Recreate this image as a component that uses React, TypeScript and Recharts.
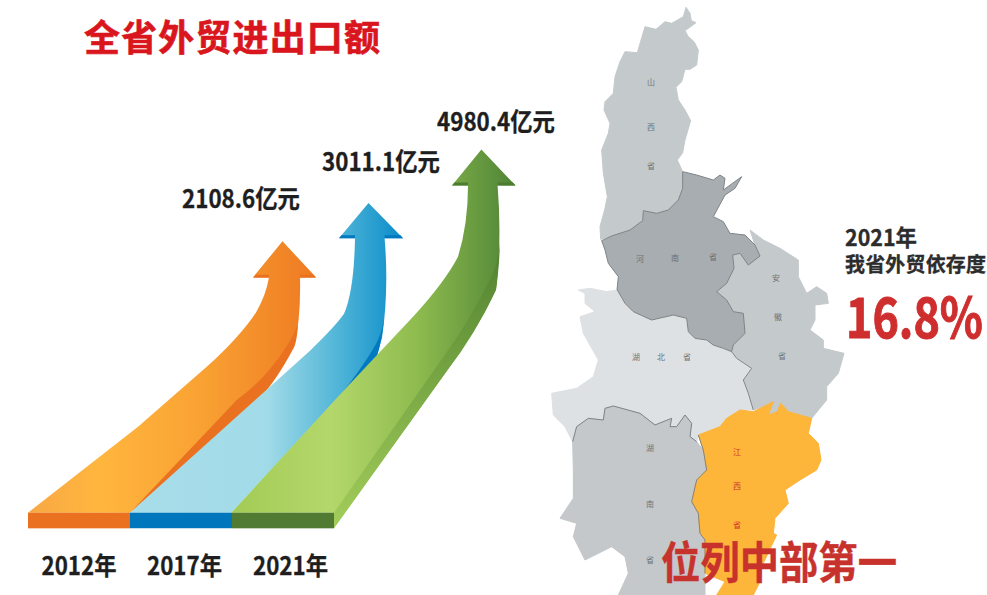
import { BarChart, Bar, XAxis, YAxis, LabelList, ScatterChart, Scatter } from "recharts";

const FONT = "'Noto Sans CJK SC', sans-serif";

const YEARS = ["2012年", "2017年", "2021年"];
const TRADE_VALUES = [2108.6, 3011.1, 4980.4];
const DEPENDENCE = "16.8%";

// arrow artwork, traced at the size of the reference, stretched onto each bar
const ARROWS = [
  {
    box: [28, 241.7, 102, 271],
    body: "M28 512.7 L138 427 L207 367 Q240 337 256 313 Q266 296 269 278 L253 278 L282.5 242 L316 278 L300 278 Q301 320 294 347 Q270 390 248 410 L130 512.7 Z",
    side: "M298 325 Q297 340 294.4 347 Q272 390 248 410 L130 512.7 L237 400 Q258 385 272 367 Q290 345 298 325 Z",
    notch: "M253 278.3 L256 275.5 L269 275.5 L269 278.3 Z M300 278.3 L300 275.5 L313.5 275.5 L316 278.3 Z",
    stops: [[0, "#f8a845"], [0.25, "#ffb63e"], [0.6, "#f9a233"], [1, "#ee7a22"]],
    edge: "#ea7120",
    strip: "#ea7120",
  },
  {
    box: [130, 201.7, 102, 311],
    body: "M130 512.7 L258 397 L310 350 Q335 326 344 313 Q354 290 355 237 L339 237 L368.5 201.7 L403 237 L384.6 237 Q389 290 382 337 L377 355 L231.4 512.7 Z",
    side: "M384 318 Q382 340 377 355 L340 395 Q360 370 372 350 Q382 335 384 318 Z",
    notch: "M339 237 L341.5 234 L355 234 L355 237 Z M384.6 237 L384.6 234 L400.5 234 L403 237 Z",
    stops: [[0, "#a8dde9"], [0.5, "#a2dbe8"], [0.75, "#54b7d8"], [1, "#0a8cc9"]],
    edge: "#0079c1",
    strip: "#0077bc",
  },
  {
    box: [232, 150, 102, 362.7],
    body: "M231.4 512.7 L344.4 390 L413 317 Q445 282 458 257 Q468 225 468 186 L452 186 L481.4 150 L515.5 186 L497.6 186 Q502 240 496 290 Q475 335 447.7 370 L334 528 L334 512.7 Z",
    side: "M334 512.7 L334 528.3 L447.7 370 Q480 325 496 290 Q499 270 500 243 Q498 265 490 280 Q470 320 447 352 Z",
    notch: "M452 186 L454.5 183 L468 183 L468 186 Z M497.6 186 L497.6 183 L513 183 L515.5 186 Z",
    stops: [[0, "#a3cb55"], [0.35, "#b4d76b"], [0.65, "#8fbc4f"], [1, "#4f8436"]],
    edge: "#4c7c30",
    strip: "#517b33",
  },
];

const LABEL_SHIFT = [[213, -44], [251, -43], [264, -29]];
const TICK_SHIFT = [0, 3.5, 7.5];

const renderArrow = (props: any) => {
  const { x, y, width, height, index } = props;
  const a = ARROWS[index];
  const [bx, by, bw, bh] = a.box;
  const id = `arrow-${index}`;
  return (
    <g transform={`translate(${x} ${y}) scale(${width / bw} ${height / bh}) translate(${-bx} ${-by})`}>
      <defs>
        <linearGradient id={id} x1="0" y1="0" x2="1" y2="0">
          {a.stops.map(([o, c]) => <stop key={o} offset={o} stopColor={c as string} />)}
        </linearGradient>
        <linearGradient id="green-side" x1="0" y1="0" x2="0" y2="1">
          <stop offset={0} stopColor="#4f7f30" />
          <stop offset={0.35} stopColor="#6d9c3e" />
          <stop offset={1} stopColor="#a3ce5b" />
        </linearGradient>
      </defs>
      <path d={a.body} fill={`url(#${id})`} />
      <path d={a.side} fill={index === 2 ? "url(#green-side)" : a.edge} />
      <path d={a.notch} fill={a.edge} />
      <rect x={bx} y={by + bh} width={bw} height={15.6} fill={a.strip} />
    </g>
  );
};

const renderValue = (props: any) => {
  const { x, y, value, index } = props;
  const [dx, dy] = LABEL_SHIFT[index];
  return (
    <text x={x + dx} y={y + dy} textAnchor="middle" dominantBaseline="central" fontFamily={FONT} fontWeight={700} fontSize={25} fill="#1e1e20" stroke="#1e1e20" strokeWidth={0.3} textLength={118} lengthAdjust="spacingAndGlyphs">
      {value.toFixed(1)}亿元
    </text>
  );
};

const renderYear = (props: any) => {
  const { x, y, payload, index } = props;
  return (
    <text x={x + TICK_SHIFT[index]} y={y + 43} textAnchor="middle" dominantBaseline="central" fontFamily={FONT} fontWeight={700} fontSize={25} fill="#1e1e20" stroke="#1e1e20" strokeWidth={0.3} textLength={75} lengthAdjust="spacingAndGlyphs">
      {payload.value}
    </text>
  );
};

// province outlines were traced on two 3x crops of the map
const north = (pts: number[][]) => pts.map(([x, y]) => [550 + x / 3, y / 3]);
const south = (pts: number[][]) => pts.map(([x, y]) => [540 + x / 3, 280 + y / 3]);

const REGIONS = [
  {
    name: "山西省", fill: "#c4cacc", textFill: "#6f7476",
    chars: [["山", 651, 81], ["西", 651, 126], ["省", 651, 165]],
    outline: north([[408, 22], [420, 40], [424, 62], [438, 68], [405, 92], [415, 110], [432, 125], [445, 150], [440, 195], [420, 208], [405, 208], [395, 245], [378, 262], [385, 300], [405, 330], [422, 362], [405, 420], [398, 458], [382, 480], [398, 515], [398, 565], [385, 600], [355, 630], [320, 640], [280, 632], [278, 662], [240, 690], [185, 708], [152, 718], [150, 680], [165, 625], [172, 590], [160, 520], [155, 450], [175, 400], [180, 370], [162, 330], [165, 305], [190, 280], [195, 230], [210, 185], [225, 155], [262, 158], [285, 80], [318, 88], [345, 65], [365, 70], [400, 50]]),
    edge: [0, 0],
  },
  {
    name: "安徽省", fill: "#c4c9cb", textFill: "#6f7476",
    chars: [["安", 776, 277], ["徽", 778, 316], ["省", 782, 355]],
    outline: [
      ...north([[600, 690], [640, 720], [690, 745], [745, 780], [745, 830], [770, 880], [800, 860], [830, 880]]),
      ...south([[865, 70], [825, 75], [825, 120], [810, 150], [850, 180], [850, 205], [912, 220], [895, 280], [860, 320], [860, 360], [815, 415], [780, 405], [745, 395], [722, 370], [712, 395], [685, 405], [700, 365], [680, 375], [640, 390], [610, 300], [635, 265], [590, 235], [575, 215], [580, 195], [615, 160], [610, 100], [580, 95], [560, 60], [530, 35]]),
      ...north([[500, 875], [530, 850], [552, 805], [548, 765], [570, 760], [595, 795], [630, 768], [615, 735]]),
    ],
    edge: [0, 0],
  },
  {
    name: "湖北省", fill: "#dee1e4", textFill: "#6f7476",
    chars: [["湖", 636, 356], ["北", 661, 356], ["省", 687, 356]],
    outline: south([[115, 30], [150, 25], [200, 35], [232, 30], [255, 70], [280, 95], [335, 120], [400, 105], [440, 115], [445, 155], [465, 175], [500, 180], [550, 205], [575, 215], [590, 235], [635, 265], [610, 300], [625, 340], [640, 390], [600, 390], [560, 415], [540, 440], [475, 465], [470, 485], [450, 470], [455, 430], [435, 405], [410, 440], [390, 440], [395, 415], [345, 435], [300, 400], [220, 378], [195, 385], [190, 420], [145, 415], [110, 440], [98, 485], [75, 440], [40, 405], [35, 340], [110, 325], [160, 290], [175, 240], [130, 160], [120, 110], [165, 95], [135, 70], [135, 40]]),
    edge: [13, 19],
  },
  {
    name: "湖南省", fill: "#c4c8ca", textFill: "#6f7476",
    chars: [["湖", 650, 447], ["南", 650, 503], ["省", 650, 559]],
    outline: south([[98, 485], [110, 440], [145, 415], [190, 420], [195, 385], [220, 378], [300, 400], [345, 435], [395, 415], [390, 440], [410, 440], [435, 405], [455, 430], [450, 470], [470, 485], [490, 510], [500, 570], [470, 600], [455, 665], [475, 700], [480, 760], [495, 780], [495, 945], [418, 945], [235, 945], [265, 880], [255, 830], [215, 800], [135, 840], [100, 770], [110, 730], [60, 715], [100, 655], [100, 570]]),
    edge: [0, 15],
  },
  {
    name: "江西省", fill: "#fdb53a", textFill: "#d0342c",
    chars: [["江", 737, 451], ["西", 737, 485], ["省", 737, 524]],
    outline: south([[475, 465], [540, 440], [560, 415], [600, 390], [640, 395], [680, 375], [700, 365], [685, 405], [712, 395], [722, 370], [745, 395], [780, 405], [815, 415], [805, 460], [835, 490], [843, 540], [830, 570], [780, 600], [735, 630], [745, 670], [705, 715], [700, 760], [710, 765], [665, 860], [660, 905], [640, 945], [530, 945], [555, 905], [495, 880], [495, 780], [480, 760], [475, 700], [455, 665], [470, 600], [500, 570], [490, 510], [475, 465]]),
    edge: [28, 37],
  },
  {
    name: "河南省", fill: "#a8adb1", textFill: "#6a6f72", stroke: "#7f8487",
    chars: [["河", 640, 258], ["南", 675, 257], ["省", 713, 256]],
    outline: [
      ...north([[398, 515], [440, 525], [490, 540], [510, 525], [525, 535], [520, 570], [575, 530], [555, 565], [525, 585], [490, 650], [520, 665], [540, 700], [585, 705], [615, 735], [630, 768], [595, 795], [570, 760], [548, 765], [552, 805], [530, 850], [500, 875]]),
      ...south([[530, 35], [560, 60], [580, 95], [610, 100], [615, 160], [580, 195], [575, 215], [550, 205], [520, 195], [500, 180], [465, 175], [445, 155], [440, 115], [400, 105], [335, 120], [280, 95], [255, 70], [232, 30]]),
      ...north([[201, 870], [205, 830], [175, 790], [165, 750], [155, 722], [185, 708], [240, 690], [278, 662], [280, 632], [320, 640], [355, 630], [385, 600], [398, 565]]),
    ],
    edge: [0, 0],
  },
];

const MAP_POINTS = REGIONS.map((r) => ({ x: r.chars[0][1] as number, y: r.chars[0][2] as number, region: r }));

const renderRegion = (props: any) => {
  const { cx, cy, payload } = props;
  const r = payload.region;
  const dx = cx - payload.x;
  const dy = cy - payload.y;
  const toStr = (pts: number[][]) => pts.map(([a, b]) => `${a + dx},${b + dy}`).join(" ");
  const [from, to] = r.edge;
  return (
    <g>
      <polygon points={toStr(r.outline)} fill={r.fill} stroke={r.stroke || r.fill} strokeWidth={1} strokeLinejoin="round" />
      {to > from && <polyline points={toStr(r.outline.slice(from, to))} fill="none" stroke="#7f8487" strokeWidth={1} />}
      {r.chars.map(([c, x, y]: any, i: number) => (
        <text key={i} x={x + dx} y={y + dy} textAnchor="middle" dominantBaseline="central" fontFamily={FONT} fontSize={8} fill={r.textFill}>{c}</text>
      ))}
    </g>
  );
};

const barData = YEARS.map((year, i) => ({ year, value: TRADE_VALUES[i] }));

export default function App() {
  return (
    <div style={{ position: "absolute", left: 0, top: 0, width: 987, height: 595, overflow: "hidden", background: "#fff" }}>
      <div style={{ position: "absolute", left: 0, top: 0 }}>
        <ScatterChart width={987} height={595} margin={{ top: 0, right: 0, bottom: 0, left: 0 }}>
          <XAxis type="number" dataKey="x" domain={[0, 987]} hide />
          <YAxis type="number" dataKey="y" domain={[0, 595]} reversed hide />
          <Scatter data={MAP_POINTS} shape={renderRegion} isAnimationActive={false} />
        </ScatterChart>
      </div>
      <div style={{ position: "absolute", left: 0, top: 0 }}>
        <BarChart width={987} height={595} data={barData} barCategoryGap={0} margin={{ top: 0, right: 653, bottom: 0, left: 28 }}>
          <XAxis dataKey="year" height={82.3} axisLine={false} tickLine={false} interval={0} tick={renderYear} />
          <YAxis hide scale="log" domain={[164, 20290]} />
          <Bar dataKey="value" shape={renderArrow} isAnimationActive={false}>
            <LabelList dataKey="value" content={renderValue} />
          </Bar>
        </BarChart>
      </div>
      <svg width={987} height={595} style={{ position: "absolute", left: 0, top: 0 }} fontFamily={FONT} fontWeight={700}>
        <text x={84} y={51} fontSize={36} fill="#d9161d" textLength={296} stroke="#d9161d" strokeWidth={0.6}>全省外贸进出口额</text>
        <text x={845} y={246} fontSize={23} fill="#2c2c2c" textLength={72} lengthAdjust="spacingAndGlyphs" stroke="#2c2c2c" strokeWidth={0.3}>2021年</text>
        <text x={845} y={272} fontSize={20} fill="#2c2c2c" textLength={141} stroke="#2c2c2c" strokeWidth={0.3}>我省外贸依存度</text>
        <text transform="translate(846 338) scale(0.8 1)" fontSize={56} fill="#cf2e2e" stroke="#cf2e2e" strokeWidth={1}>{DEPENDENCE}</text>
        <text x={661} y={579} fontSize={44} fill="#c8322d" textLength={236} lengthAdjust="spacingAndGlyphs" stroke="#c8322d" strokeWidth={0.4}>位列中部第一</text>
      </svg>
    </div>
  );
}
